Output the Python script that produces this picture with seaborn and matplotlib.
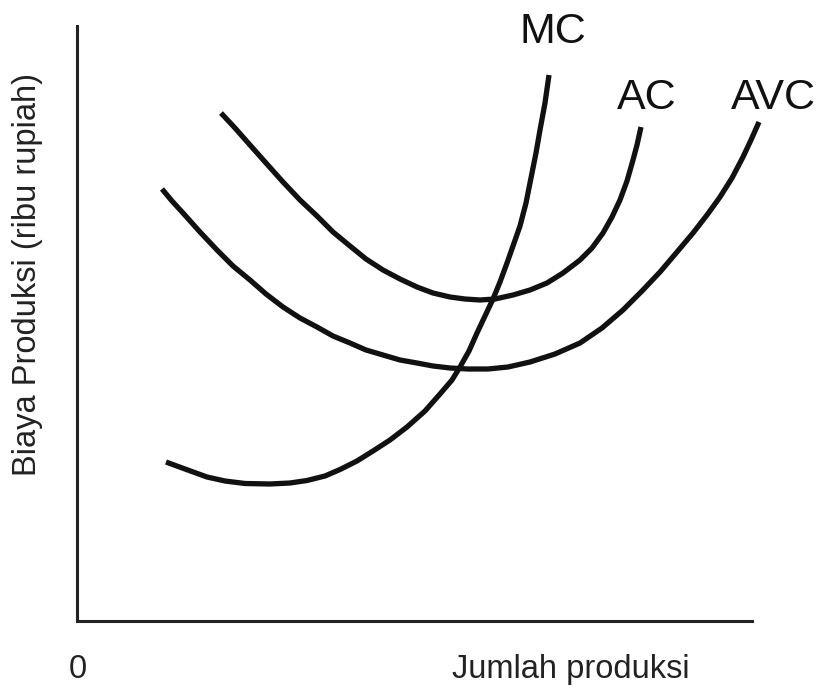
import matplotlib
matplotlib.use('Agg')
import numpy as np
import pandas as pd
import seaborn as sns
import matplotlib.pyplot as plt

# points, in picture units (x 0-675 along the axis, y 0-595 up the axis)
mc_x = [89, 108, 130, 148, 168, 193, 213, 230, 248, 263, 280, 296, 313, 330, 348, 363,
        375, 383, 392, 400, 408, 416, 423, 430, 436, 443, 449, 454, 459, 463, 468, 472]
mc_y = [159, 152, 144, 140, 137.5, 137, 138, 140.5, 145, 151.5, 160, 170, 181, 194, 210, 227,
        241, 254, 270, 288, 305, 322, 339, 358, 375, 395, 418, 443, 468, 491, 518, 546]

ac_x = [144, 158, 173, 189, 206, 223, 240, 256, 273, 289, 306, 323, 340, 356, 373, 388,
        403, 418, 436, 453, 470, 486, 503, 515, 526, 535, 543, 550, 556, 560, 564]
ac_y = [508, 493, 476, 458, 439, 421, 405, 389, 375, 362, 351, 342, 334, 328, 324, 322,
        321, 322, 326, 331, 338, 348, 361, 373, 388, 404, 421, 440, 461, 476, 494]

avc_x = [85, 95, 106, 123, 140, 156, 173, 189, 206, 223, 240, 256, 273, 289, 306, 323, 340, 356, 373,
         391, 411, 431, 453, 478, 503, 525, 546, 565, 583, 600, 616, 630, 643, 655, 666, 674, 682]
avc_y = [432, 420, 408, 389, 371, 355, 341, 327, 314, 303, 294, 285, 278, 271, 266, 261, 258, 255, 253,
         252, 252, 254, 259, 267, 278, 293, 311, 330, 349, 369, 388, 406, 424, 443, 464, 481, 499]

curve_names = ['MC', 'AC', 'AVC']
label_x = [476, 570, 696]
label_y = [578, 512, 512]

df = pd.concat([
    pd.DataFrame({'x': mc_x, 'y': mc_y, 'kurva': 'MC'}),
    pd.DataFrame({'x': ac_x, 'y': ac_y, 'kurva': 'AC'}),
    pd.DataFrame({'x': avc_x, 'y': avc_y, 'kurva': 'AVC'}),
], ignore_index=True)

sns.set_theme(style='white')
plt.rcParams['font.family'] = ['Liberation Sans', 'DejaVu Sans']

fig = plt.figure(figsize=(8.2, 6.88), dpi=100)
ax = fig.add_axes([77 / 820, 67 / 688, 675 / 820, 595 / 688])

for name in curve_names:
    sns.lineplot(data=df[df['kurva'] == name], x='x', y='y', sort=False, estimator=None,
                 color='#111111', linewidth=3.8, ax=ax, clip_on=False,
                 solid_capstyle='butt', solid_joinstyle='round')

for name, lx, ly in zip(curve_names, label_x, label_y):
    ax.text(lx, ly, name, fontsize=31, ha='center', va='baseline', color='#111111', clip_on=False)

ax.set_xlim(0, 675)
ax.set_ylim(0, 595)
ax.set_xticks([])
ax.set_yticks([])
ax.set_xlabel('')
ax.set_ylabel('')
for side in ['top', 'right']:
    ax.spines[side].set_visible(False)
for side in ['left', 'bottom']:
    ax.spines[side].set_color('#222222')
    ax.spines[side].set_linewidth(2.2)

ax.text(1, -57, '0', fontsize=23.5, ha='center', va='baseline', color='#222222')
ax.text(375, -57, 'Jumlah produksi', fontsize=23.5, ha='left', va='baseline', color='#222222')
ax.text(-49, 346.5, 'Biaya Produksi (ribu rupiah)', fontsize=23.5, rotation=90,
        ha='center', va='center', color='#222222')

plt.savefig('out.png', dpi=100)
